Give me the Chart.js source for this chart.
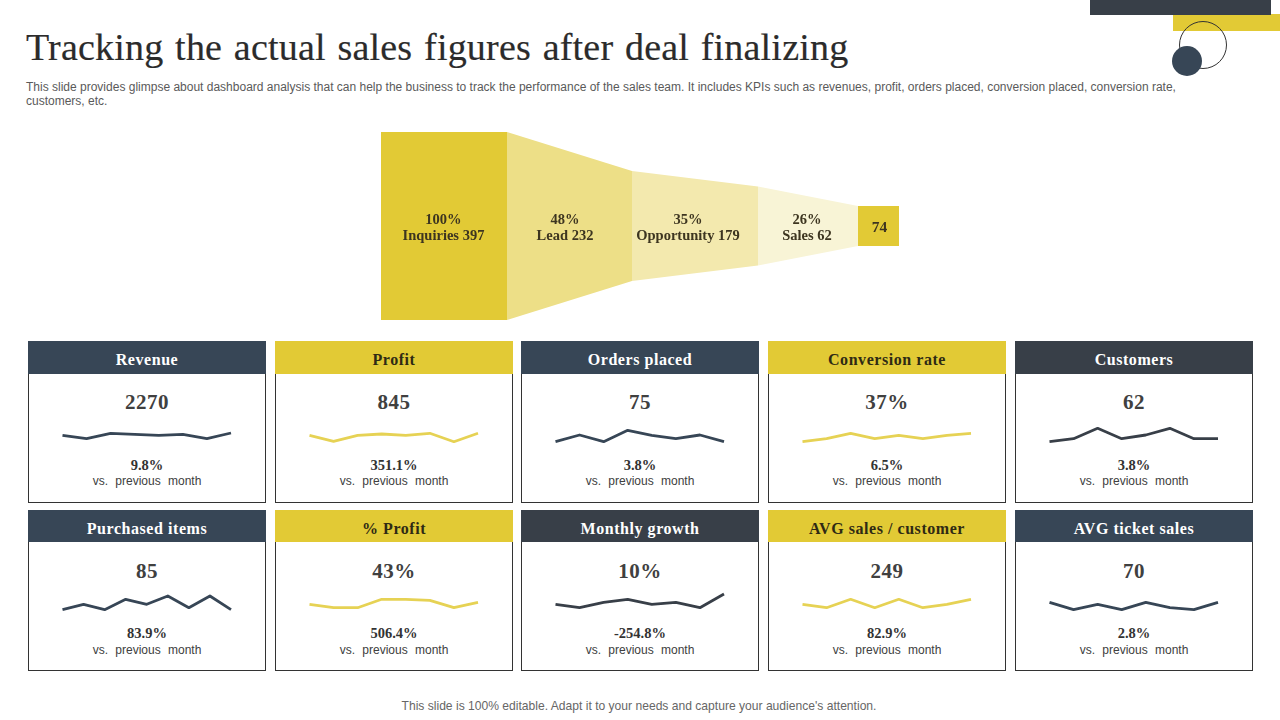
<!DOCTYPE html>
<html><head><meta charset="utf-8">
<script src="https://cdn.jsdelivr.net/npm/chart.js@4"></script>
<style>
html,body{margin:0;padding:0;background:#fff;width:1280px;height:720px;overflow:hidden}
body{position:relative;font-family:"Liberation Sans",sans-serif}
.abs{position:absolute}
#title{left:26px;top:24px;font:400 38px/46px "Liberation Serif",serif;color:#2b2b2b;letter-spacing:.2px;word-spacing:2px;white-space:nowrap;-webkit-text-stroke:.2px #2b2b2b}
#sub{left:26px;top:80px;width:1170px;font:12px/14px "Liberation Sans",sans-serif;color:#5a5a5a}
#foot{left:0;width:1278px;top:699px;text-align:center;font:12.1px/14px "Liberation Sans",sans-serif;color:#666}
.card{position:absolute;box-sizing:border-box;width:238px;border:1px solid #333;background:#fff}
.head{position:absolute;left:-1px;right:-1px;top:-1px;text-align:center;font:700 16px/33px "Liberation Serif",serif;letter-spacing:.55px}
.val,.delta,.vs{position:absolute;left:0;right:0;text-align:center;white-space:nowrap}
.val{font:700 21px/24px "Liberation Serif",serif;color:#404040;letter-spacing:.5px}
.delta{font:700 14.5px/16px "Liberation Serif",serif;color:#333}
.vs{font:12px/14px "Liberation Sans",sans-serif;color:#404040;word-spacing:4px}
.card canvas{position:absolute}
.fl{position:absolute;text-align:center;font:700 14.5px/16px "Liberation Serif",serif;color:#3d3520;white-space:nowrap;transform:translateX(-50%)}
</style></head><body>
<div class="abs" style="left:1173px;top:14px;width:107px;height:17px;background:#e2ca35"></div>
<div class="abs" style="left:1090px;top:0;width:181px;height:15px;background:#383f48"></div>
<div class="abs" style="left:1179px;top:21px;width:46px;height:46px;border:1px solid #333;border-radius:50%"></div>
<div class="abs" style="left:1172px;top:46px;width:30px;height:30px;border-radius:50%;background:#374656"></div>
<div id="title" class="abs">Tracking the actual sales figures after deal finalizing</div>
<div id="sub" class="abs">This slide provides glimpse about dashboard analysis that can help the business to track the performance of the sales team. It includes KPIs such as revenues, profit, orders placed, conversion placed, conversion rate, customers, etc.</div>
<canvas id="funnel" class="abs" style="left:371px;top:122px" width="538" height="208"></canvas>
<div id="foot" class="abs">This slide is 100% editable. Adapt it to your needs and capture your audience's attention.</div>
<script>
const cardTitles = ["Revenue","Profit","Orders placed","Conversion rate","Customers","Purchased items","% Profit","Monthly growth","AVG sales / customer","AVG ticket sales"];
const cardValues = ["2270","845","75","37%","62","85","43%","10%","249","70"];
const cardDeltas = ["9.8%","351.1%","3.8%","6.5%","3.8%","83.9%","506.4%","-254.8%","82.9%","2.8%"];
const revenueTrend = [16.7,13.3,18.7,17.7,16.7,17.7,13.3,19];
const profitTrend = [16.7,10.7,16.7,18,16.7,18.7,10.3,18.7];
const ordersTrend = [10.3,17,10.3,21.7,16.7,13.3,17,10.3];
const conversionTrend = [10.3,13.3,18.7,13.3,16.7,13.3,16.7,18.7];
const customersTrend = [10.3,13.3,23.7,13.3,17,23.7,13.3,13.3];
const purchasedTrend = [10.3,15.7,10.3,20.7,15.7,24,12.3,24,10.3];
const profitPctTrend = [15.7,12.3,12.3,20.7,20.7,19.7,12.3,17.7];
const growthTrend = [15.7,12.3,17.7,20.7,15.7,17.7,12.3,26];
const avgSalesTrend = [15.7,12.3,20.7,12.3,20.7,12.3,15.7,20.7];
const avgTicketTrend = [17.7,10.3,15.7,10.3,17.7,12.3,10.3,17.7];
const trends = [revenueTrend,profitTrend,ordersTrend,conversionTrend,customersTrend,purchasedTrend,profitPctTrend,growthTrend,avgSalesTrend,avgTicketTrend];

const funnelLabels = [["100%","Inquiries 397"],["48%","Lead 232"],["35%","Opportunity 179"],["26%","Sales 62"]];
const funnelFinal = "74";
const stageWidths = [126,125,126,100,41];
const stageHeights = [100,100,58.5,42,21.3,21.3];
const stageColors = ["#e2ca35","#eddf87","#f3e9ae","#f8f4d6","#e2ca35"];
const labelShift = [-0.5,-4.5,-7,-1];

const NAVY="#374656", SLATE="#383f48", YEL="#e2ca35", YELLINE="#e6d254";
const heads=[NAVY,YEL,NAVY,YEL,SLATE,NAVY,YEL,SLATE,YEL,NAVY];
const lines=[NAVY,YELLINE,NAVY,YELLINE,SLATE,NAVY,YELLINE,SLATE,YELLINE,NAVY];
const cols=[28,275,521,768,1015];
Chart.defaults.animation=false;

trends.forEach((t,i)=>{
  const row=i<5?0:1, left=cols[i%5], top=row?510:341;
  const c=document.createElement('div');c.className='card';
  c.style.cssText=`left:${left}px;top:${top}px;height:${row?161:162}px`;
  const dark=heads[i]!==YEL;
  c.innerHTML=`<div class="head" style="background:${heads[i]};color:${dark?'#fff':'#2f2a14'};height:${row?32:33}px;line-height:37px">${cardTitles[i]}</div>
  <div class="val" style="top:48px">${cardValues[i]}</div>
  <div class="delta" style="top:${row?114:115}px">${cardDeltas[i]}</div>
  <div class="vs" style="top:132px">vs. previous month</div>
  <canvas width="190" height="40" style="left:24px;top:${row?74:75}px"></canvas>`;
  document.body.appendChild(c);
  new Chart(c.querySelector('canvas'),{type:'line',
    data:{labels:t.map((_,k)=>k),datasets:[{data:t,borderColor:lines[i],borderWidth:2.8,pointRadius:0,tension:0,borderCapStyle:'butt',borderJoinStyle:'round',clip:false}]},
    options:{responsive:false,layout:{padding:{left:9.5,right:12,top:5,bottom:5}},
      plugins:{legend:{display:false},tooltip:{enabled:false}},
      scales:{x:{display:false,offset:false},y:{display:false,min:0,max:30}}}});
});

/* funnel: cumulative stage boundaries on a linear x scale, symmetric bands on y */
const edges=stageWidths.reduce((a,w)=>{a.push(a[a.length-1]+w);return a;},[0]);
const ds=[];
stageWidths.forEach((w,i)=>{
  const h0=stageHeights[i],h1=stageHeights[i+1];
  ds.push({data:[{x:edges[i],y:h0},{x:edges[i+1],y:h1}],borderWidth:0,pointRadius:0,fill:false});
  ds.push({data:[{x:edges[i],y:-h0},{x:edges[i+1],y:-h1}],borderWidth:0,pointRadius:0,backgroundColor:stageColors[i],fill:'-1'});
});
const fChart=new Chart(document.getElementById('funnel'),{type:'line',data:{datasets:ds},
  options:{responsive:false,layout:{padding:{left:10,right:10,top:10,bottom:10}},
    plugins:{legend:{display:false},tooltip:{enabled:false},filler:{propagate:false}},
    scales:{x:{type:'linear',display:false,min:0,max:edges[edges.length-1]},y:{display:false,min:-100,max:100}}}});
funnelLabels.forEach((l,i)=>{
  const mid=(edges[i]+edges[i+1])/2+labelShift[i];
  const d=document.createElement('div');d.className='fl';
  d.style.left=(371+fChart.scales.x.getPixelForValue(mid))+'px';d.style.top='210.5px';
  d.innerHTML=l[0]+'<br>'+l[1];document.body.appendChild(d);
});
const e=document.createElement('div');e.className='fl';
e.style.left=(372+fChart.scales.x.getPixelForValue((edges[4]+edges[5])/2))+'px';e.style.top='219px';e.style.fontSize='15.5px';
e.textContent=funnelFinal;document.body.appendChild(e);
</script>
</body></html>
